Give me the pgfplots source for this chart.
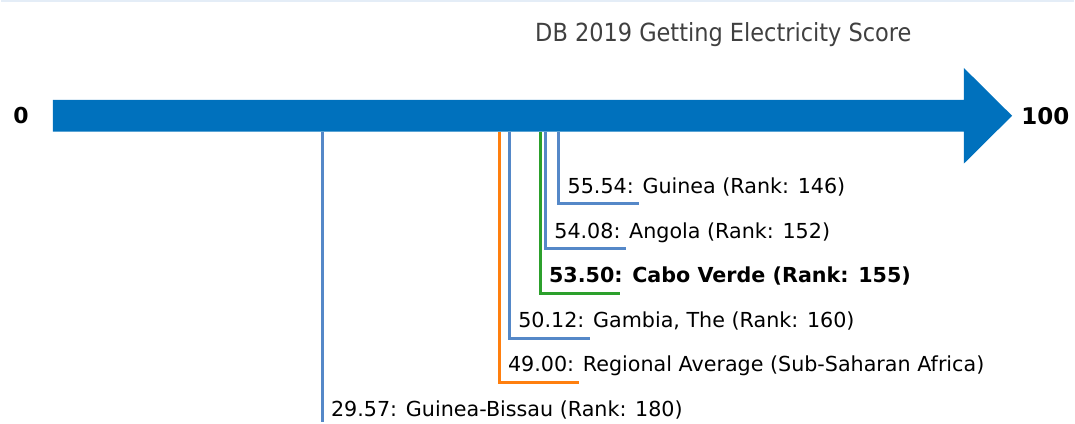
\documentclass[border=0pt]{standalone}
\usepackage{pgfplots}
\pgfplotsset{compat=1.18}
\usepackage{fontspec}
\setmainfont{DejaVu Sans}
\newfontfamily\condfont{DejaVu Sans Condensed}

\definecolor{arrowblue}{HTML}{0071BD}
\definecolor{lineblue}{HTML}{5588C8}
\definecolor{lineorange}{HTML}{FF7F0E}
\definecolor{linegreen}{HTML}{2CA02C}
\definecolor{titlegrey}{HTML}{404040}
\definecolor{topline}{HTML}{E4EDF7}

\newcommand{\lblfont}{\fontsize{20.7}{24}\selectfont}
% score -> x; y in pixels from top (negative)
\newcommand{\marker}[4]{% value, level, colour, label
  \addplot[#3, line width=2.9pt, line join=miter] coordinates {(#1,-132) (#1,-#2) (#1+8.8,-#2)};
  \node[anchor=base west, inner sep=0pt, font=\lblfont] at (axis cs:#1+0.95,-#2+10.5) {#4};
}

\begin{document}
\begin{tikzpicture}
\begin{axis}[
  width=1075pt, height=423pt, scale only axis,
  xmin=-5.698, xmax=112.1, ymin=-423, ymax=0,
  hide axis, clip=false
]
\path (axis cs:-5.698,-423) rectangle (axis cs:112.1,0);

% faint frame line at top
\addplot[topline, line width=2pt] coordinates {(-5.698,-1) (112.1,-1)};

% the arrow
\addplot[fill=arrowblue, draw=none] coordinates {
  (0,-100) (100,-100) (100,-68) (105.3,-116) (100,-164) (100,-132) (0,-132) (0,-100)};

% scores
\addplot[lineblue, line width=2.9pt] coordinates {(29.57,-132) (29.57,-423)};
\node[anchor=base west, inner sep=0pt, font=\lblfont] at (axis cs:29.57+0.95,-417) {29.57: Guinea-Bissau (Rank: 180)};
\marker{49.00}{383}{lineorange}{49.00: Regional Average (Sub-Saharan Africa)}
\marker{50.12}{339}{lineblue}{50.12: Gambia, The (Rank: 160)}
\marker{53.50}{294}{linegreen}{\textbf{53.50: Cabo Verde (Rank: 155)}}
\marker{54.08}{249}{lineblue}{54.08: Angola (Rank: 152)}
\marker{55.54}{204}{lineblue}{55.54: Guinea (Rank: 146)}

% end labels
\node[font=\fontsize{22}{24}\selectfont\bfseries] at (axis cs:-3.5,-116) {0};
\node[anchor=west, inner sep=0pt, font=\fontsize{23}{26}\selectfont\bfseries] at (axis cs:106.3,-116) {100};

% title
\node[text=titlegrey, font=\condfont\fontsize{25}{28}\selectfont] at (axis cs:73.6,-34.5) {DB 2019 Getting Electricity Score};
\end{axis}
\end{tikzpicture}
\end{document}
